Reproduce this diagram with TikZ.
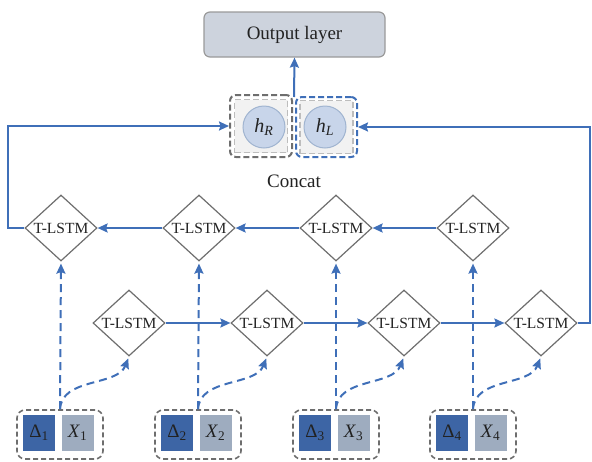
\documentclass[tikz,border=0pt]{standalone}
\usepackage{fontspec}
\setmainfont{Liberation Serif}
\usetikzlibrary{shapes.geometric,arrows.meta,calc}
\definecolor{ablue}{HTML}{3F6FB8}
\definecolor{dblue}{HTML}{3D65A5}
\definecolor{xgray}{HTML}{9EACBF}
\definecolor{dgray}{HTML}{6E6E6E}
\definecolor{lgray}{HTML}{BDBDBD}
\definecolor{cfill}{HTML}{C8D5EA}
\definecolor{cdraw}{HTML}{A0B4D0}
\definecolor{ofill}{HTML}{CDD3DD}
\definecolor{odraw}{HTML}{9A9A9A}
\definecolor{txt}{HTML}{222222}
\tikzset{
  tlstm/.style={draw=dgray, line width=1.2pt, shape=diamond, inner sep=0pt, minimum width=72pt, minimum height=66pt,
    label={[text=txt, font=\fontsize{15.5}{18}\selectfont]center:T-LSTM}},
  outbox/.style={draw=odraw, fill=ofill, line width=1.2pt, rounded corners=6pt, minimum width=181pt, minimum height=45pt, text=txt, font=\fontsize{19}{22}\selectfont},
  grayouter/.style={draw=dgray, dash pattern=on 6pt off 3pt, line width=2pt, rounded corners=6pt, minimum width=62pt, minimum height=62pt},
  blueouter/.style={draw=ablue, dash pattern=on 6pt off 3pt, line width=2pt, rounded corners=6pt, minimum width=61pt, minimum height=60pt},
  innersq/.style={draw=lgray, fill=black!5, dash pattern=on 6pt off 3pt, line width=1.3pt, minimum width=53pt, minimum height=53pt},
  hcirc/.style={circle, draw=cdraw, fill=cfill, line width=1pt, minimum size=42pt, inner sep=0pt, text=txt, font=\fontsize{20}{22}\selectfont},
  ingroup/.style={draw=dgray, dash pattern=on 5pt off 3pt, line width=1.6pt, rounded corners=8pt, minimum width=86pt, minimum height=49pt},
  dbox/.style={fill=dblue, minimum width=32pt, minimum height=36pt, inner sep=0pt, text=txt, font=\fontsize{19}{20}\selectfont},
  xbox/.style={fill=xgray, minimum width=32pt, minimum height=36pt, inner sep=0pt, text=txt, font=\fontsize{19}{20}\selectfont},
  conn/.style={draw=ablue, line width=2pt, -{Stealth[length=10pt,width=9pt,inset=1.5pt]}},
  dconn/.style={draw=ablue, line width=2pt, dash pattern=on 8pt off 5pt, shorten >=2pt, -{Stealth[length=10pt,width=9pt,inset=1.5pt]}},
  lbl/.style={text=txt, font=\fontsize{19}{22}\selectfont}
}
\begin{document}
\begin{tikzpicture}[x=1pt,y=-1pt]
\useasboundingbox (0,0) rectangle (592,461);
% output
\node[outbox] (out) at (294.5,34.5) {Output layer};
% concat
\node[innersq] (sqR) at (261,126) {};
\node[innersq] (sqL) at (326.5,127) {};
\node[hcirc] (hR) at (264,127) {\textit{h}\textsubscript{\textit{R}}};
\node[hcirc] (hL) at (325,127) {\textit{h}\textsubscript{\textit{L}}};
\node[grayouter] (cR) at (261,126) {};
\node[blueouter] (cL) at (326.5,127) {};
\node[lbl] (concat) at (294,181) {Concat};
\coordinate (cmid) at (294,97);
\draw[conn] (cmid) -- (out.south);
% diamonds
\foreach \i/\x in {1/61,2/199,3/336,4/473}{
  \node[tlstm] (t\i) at (\x,228) {};
}
\foreach \i/\x in {1/129,2/267,3/404,4/541}{
  \node[tlstm] (b\i) at (\x,323) {};
}
% inputs
\foreach \i/\x in {1/60,2/198,3/336,4/473}{
  \node[ingroup] (g\i) at (\x,434.5) {};
  \node[dbox] (d\i) at (\x-21,433) {Δ\textsubscript{\i}};
  \node[xbox] (x\i) at (\x+17.5,433) {\textit{X}\textsubscript{\i}};
}
% top row (leftward)
\draw[conn] (t4.west) -- (t3.east);
\draw[conn] (t3.west) -- (t2.east);
\draw[conn] (t2.west) -- (t1.east);
% bottom row (rightward)
\draw[conn] (b1.east) -- (b2.west);
\draw[conn] (b2.east) -- (b3.west);
\draw[conn] (b3.east) -- (b4.west);
% feedback lines
\coordinate (lA) at (8,228);
\coordinate (lB) at (8,126);
\draw[conn] (t1.west) -- (lA) -- (lB) -- (cR.west);
\coordinate (rA) at (590,323);
\coordinate (rB) at (590,127);
\draw[conn] (b4.east) -- (rA) -- (rB) -- (cL.east);
% dashed input arrows
\foreach \i in {1,2,3,4}{
  \draw[dconn] (g\i.north) -- (t\i.south);
  \draw[dconn] (g\i.north) .. controls ($(g\i.north)+(2,-32)$) and ($(b\i.south)+(-12,30)$) .. (b\i.south);
}
\end{tikzpicture}
\end{document}
